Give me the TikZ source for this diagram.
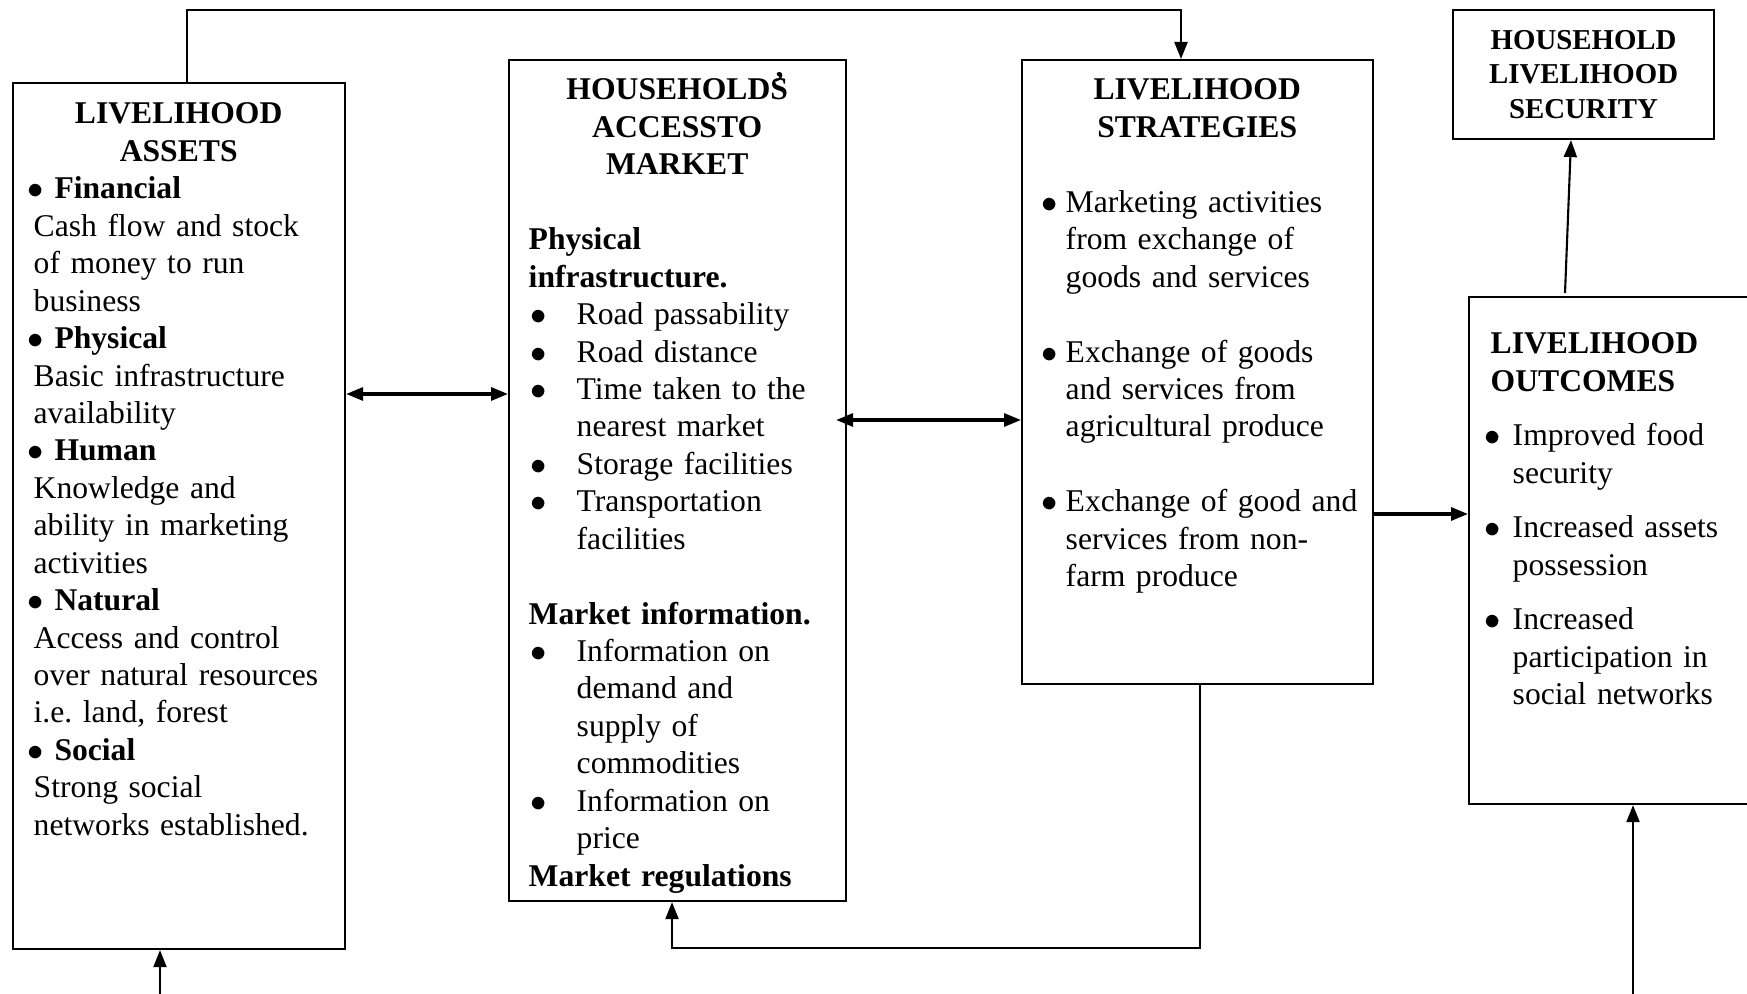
\documentclass[tikz,border=0pt]{standalone}
\usepackage{fontspec}
\setmainfont{Liberation Serif}
\usetikzlibrary{arrows.meta}
\setlength{\parindent}{0pt}
\frenchspacing
\newcommand{\bul}{\hspace{-0.06cm}$\bullet$}
\newcommand{\dotat}[1]{\noindent\llap{\makebox[#1][l]{\bul}}}
\newcommand{\gapline}{\vspace{10.65pt}}

\begin{document}
\begin{tikzpicture}[
    box/.style={draw,line width=0.6pt,inner sep=0,anchor=north west},
    txt/.style={inner sep=0,anchor=base west,font=\fontsize{9.0}{10.65}\selectfont},
    link/.style={line width=0.6pt,-{Triangle[length=1.7mm,width=1.3mm]}},
    both/.style={line width=0.9pt,{Triangle[length=1.7mm,width=1.3mm]}-{Triangle[length=1.7mm,width=1.3mm]}}]
    \useasboundingbox (0,0) rectangle (17.47,-9.94);

    % boxes
    \node[box,minimum width=3.32cm,minimum height=8.66cm] (assets) at (0.12,-0.82) {};
    \node[box,minimum width=3.37cm,minimum height=8.41cm] (market) at (5.08,-0.59) {};
    \node[box,minimum width=3.51cm,minimum height=6.24cm] (strat) at (10.21,-0.59) {};
    \node[box,minimum width=3.20cm,minimum height=5.07cm] (outcomes) at (14.68,-2.96) {};
    \node[box,minimum width=2.61cm,minimum height=1.29cm,align=center,
      font=\fontsize{8.2}{9.8}\selectfont\bfseries] (security) at (14.52,-0.09)
      {HOUSEHOLD\\LIVELIHOOD\\SECURITY};

    % texts
    \node[txt,text width=3.02cm] (assetstxt) at (0.27,-1.24) {%
      {\centering\bfseries LIVELIHOOD\\ASSETS\par}
      \raggedright\leftskip=0.06cm
      \bul\ \textbf{Financial}\\
      Cash flow and stock\\
      of money to run\\
      business\\
      \bul\ \textbf{Physical}\\
      Basic infrastructure\\
      availability\\
      \bul\ \textbf{Human}\\
      Knowledge and\\
      ability in marketing\\
      activities\\
      \bul\ \textbf{Natural}\\
      Access and control\\
      over natural resources\\
      i.e. land, forest\\
      \bul\ \textbf{Social}\\
      Strong social\\
      networks established.\par};

    \begin{scope}
      \clip (market.north west) rectangle (market.south east);
      \node[txt,text width=3.17cm] (markettxt) at (5.18,-1.00) {%
        {\centering\bfseries HOUSEHOLD\rlap{\hspace{0.12em}\raisebox{0.22em}{\small'}}S\\ACCESSTO\\MARKET\par}
        \gapline
        \raggedright\leftskip=0.10cm
        \textbf{Physical\\infrastructure.}\par
        \leftskip=0.58cm
        \dotat{0.40cm}Road passability\par
        \dotat{0.40cm}Road distance\par
        \dotat{0.40cm}Time taken to the\\nearest market\par
        \dotat{0.40cm}Storage facilities\par
        \dotat{0.40cm}Transportation\\facilities\par
        \gapline
        \leftskip=0.10cm
        \textbf{Market information.}\par
        \leftskip=0.58cm
        \dotat{0.40cm}Information on\\demand and\\supply of\\commodities\par
        \dotat{0.40cm}Information on\\price\par
        \leftskip=0.10cm
        \textbf{Market regulations}\par};
    \end{scope}

    \node[txt,text width=3.31cm] (strattxt) at (10.31,-1.00) {%
      {\centering\bfseries LIVELIHOOD\\STRATEGIES\par}
      \gapline
      \raggedright\leftskip=0.34cm
      \dotat{0.18cm}Marketing activities\\from exchange of\\goods and services\par
      \gapline
      \dotat{0.18cm}Exchange of goods\\and services from\\agricultural produce\par
      \gapline
      \dotat{0.18cm}Exchange of good and\\services from non-\\farm produce\par};

    \node[txt,text width=2.6cm] (outcomestxt) at (14.90,-3.54) {%
      \raggedright
      \textbf{LIVELIHOOD\\OUTCOMES}\\[0.17cm]
      \leftskip=0.22cm
      \dotat{0.22cm}Improved food\\security\par
      \vspace{0.17cm}
      \dotat{0.22cm}Increased assets\\possession\par
      \vspace{0.17cm}
      \dotat{0.22cm}Increased\\participation in\\social networks\par};

    % connectors
    \coordinate (upl) at (1.87,-0.10);
    \coordinate (upr) at (11.81,-0.10);
    \draw[link] (assets.north -| upl) -- (upl) -- (upr) -- (strat.north -| upr);

    \coordinate (am) at (4.2,-3.94);
    \draw[both] (assets.east |- am) -- (market.west |- am);
    \coordinate (ms) at (9.3,-4.20);
    \draw[both,shorten <=-1.1mm] (market.east |- ms) -- (strat.west |- ms);
    \coordinate (so) at (13.9,-5.14);
    \draw[link,line width=0.9pt] (strat.east |- so) -- (outcomes.west |- so);

    \coordinate (os1) at (15.65,-2.93);
    \coordinate (os2) at (15.71,-1.38);
    \draw[link] (os1) -- (security.south -| os2);

    \coordinate (backr) at (12.00,-9.48);
    \coordinate (backl) at (6.72,-9.48);
    \draw[link] (strat.south -| backr) -- (backr) -- (backl) -- (market.south -| backl);

    \coordinate (inl) at (1.60,-10.0);
    \draw[link] (inl) -- (assets.south -| inl);
    \coordinate (inr) at (16.33,-10.0);
    \draw[link] (inr) -- (outcomes.south -| inr);
\end{tikzpicture}
\end{document}
